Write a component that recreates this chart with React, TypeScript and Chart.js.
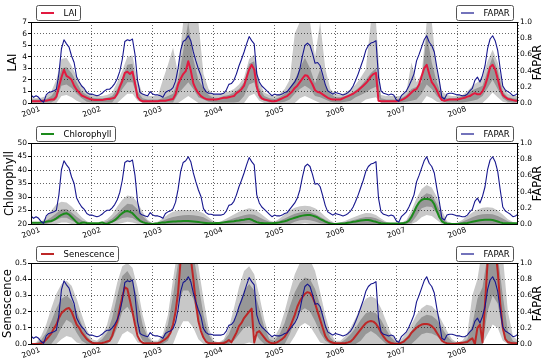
import React, { useEffect, useRef } from 'react';
import { Chart, registerables } from 'chart.js';

Chart.register(...registerables);

// ---------------- time axis ----------------
const START_YEAR = 2001;
const END_YEAR = 2009;
const HALF_MONTHS_PER_YEAR = 24; // sampling of FAPAR and the mean lines
const MONTHS_PER_YEAR = 12; // sampling of the uncertainty bands
const yearLabels = [2001, 2002, 2003, 2004, 2005, 2006, 2007, 2008];

// ---------------- FAPAR (shared by the three panels, right axis) ----------------
const fapar = [
  0.10, 0.07, 0.09, 0.07, 0.03, 0.01, 0.10, 0.13, 0.14, 0.15, 0.17, 0.36,
  0.67, 0.78, 0.73, 0.69, 0.58, 0.50, 0.32, 0.26, 0.21, 0.18, 0.13, 0.11,
  0.11, 0.10, 0.09, 0.10, 0.12, 0.15, 0.17, 0.17, 0.20, 0.24, 0.30, 0.39,
  0.54, 0.76, 0.78, 0.77, 0.79, 0.60, 0.28, 0.13, 0.11, 0.10, 0.09, 0.14,
  0.11, 0.10, 0.10, 0.09, 0.07, 0.13, 0.15, 0.16, 0.19, 0.27, 0.43, 0.65,
  0.76, 0.78, 0.83, 0.77, 0.63, 0.52, 0.42, 0.34, 0.19, 0.14, 0.12, 0.12,
  0.11, 0.11, 0.11, 0.11, 0.12, 0.16, 0.23, 0.24, 0.28, 0.36, 0.46, 0.54,
  0.63, 0.73, 0.82, 0.77, 0.73, 0.36, 0.26, 0.21, 0.18, 0.15, 0.12, 0.09,
  0.11, 0.10, 0.10, 0.11, 0.13, 0.14, 0.18, 0.22, 0.26, 0.32, 0.42, 0.58,
  0.71, 0.74, 0.71, 0.61, 0.49, 0.50, 0.46, 0.35, 0.23, 0.15, 0.13, 0.11,
  0.13, 0.12, 0.11, 0.10, 0.11, 0.13, 0.16, 0.21, 0.28, 0.36, 0.45, 0.54,
  0.65, 0.71, 0.74, 0.75, 0.77, 0.32, 0.15, 0.12, 0.11, 0.10, 0.11, 0.10,
  0.04, 0.02, 0.09, 0.12, 0.15, 0.21, 0.28, 0.36, 0.52, 0.60, 0.69, 0.78,
  0.83, 0.75, 0.71, 0.63, 0.44, 0.27, 0.07, 0.05, 0.11, 0.12, 0.12, 0.11,
  0.10, 0.10, 0.09, 0.09, 0.11, 0.15, 0.18, 0.28, 0.32, 0.26, 0.34, 0.46,
  0.67, 0.79, 0.83, 0.77, 0.65, 0.42, 0.21, 0.16, 0.14, 0.12, 0.09, 0.10, 0.12,
];

// ---------------- LAI ----------------
const laiMean = [
  0.15, 0.15, 0.15, 0.15, 0.15, 0.2, 0.2, 0.25, 0.3, 0.3, 0.55, 1.4,
  2.2, 2.87, 2.35, 2.2, 2.0, 1.5, 1.15, 0.9, 0.65, 0.55, 0.45, 0.35,
  0.3, 0.25, 0.25, 0.25, 0.25, 0.3, 0.35, 0.35, 0.4, 0.45, 0.8, 1.4,
  1.9, 2.6, 2.7, 2.5, 2.7, 1.7, 0.5, 0.25, 0.15, 0.15, 0.15, 0.15,
  0.15, 0.15, 0.15, 0.2, 0.2, 0.2, 0.25, 0.3, 0.35, 0.75, 1.6, 2.1,
  2.5, 2.75, 3.6, 2.8, 1.7, 1.2, 0.85, 0.6, 0.45, 0.35, 0.3, 0.3,
  0.3, 0.3, 0.35, 0.4, 0.45, 0.45, 0.5, 0.55, 0.6, 0.85, 1.0, 1.2,
  1.5, 2.2, 2.9, 3.3, 2.9, 1.4, 0.7, 0.4, 0.3, 0.25, 0.2, 0.15,
  0.15, 0.2, 0.3, 0.4, 0.5, 0.6, 0.8, 1.0, 1.3, 1.5, 1.8, 2.1,
  2.4, 2.35, 2.0, 1.6, 1.1, 0.95, 0.9, 0.75, 0.6, 0.45, 0.35, 0.3,
  0.3, 0.3, 0.3, 0.4, 0.5, 0.6, 0.7, 0.8, 0.95, 1.1, 1.3, 1.5,
  1.7, 1.95, 2.3, 2.5, 2.6, 0.2, 0.15, 0.15, 0.15, 0.15, 0.15, 0.15,
  0.15, 0.2, 0.25, 0.35, 0.5, 0.7, 0.9, 1.1, 1.2, 1.6, 2.3, 3.0,
  3.3, 2.5, 1.8, 1.5, 1.1, 0.6, 0.25, 0.2, 0.25, 0.3, 0.3, 0.3,
  0.3, 0.35, 0.4, 0.45, 0.55, 0.6, 0.75, 0.85, 0.75, 0.75, 1.0, 1.5,
  2.2, 3.1, 3.3, 2.9, 2.1, 1.2, 0.7, 0.5, 0.35, 0.3, 0.25, 0.2, 0.2,
];
const laiOuterHi = [
  0.4, 0.4, 0.45, 0.6, 1.0, 2.0, 3.8, 3.9, 3.2, 2.3, 1.5, 1.0, 0.7,
  0.6, 0.6, 0.7, 0.9, 1.8, 2.8, 4.0, 4.1, 2.0, 0.8, 0.6, 0.6,
  0.6, 2.0, 3.3, 4.8, 2.5, 7, 7, 7, 7, 2.5, 1.2, 0.7,
  0.7, 0.9, 1.0, 1.2, 1.6, 2.2, 3.8, 4.2, 1.8, 0.9, 0.7, 0.6,
  0.8, 1.2, 2.0, 6.0, 7, 7, 7, 4.0, 7, 3.0, 1.2, 0.8,
  0.7, 0.9, 1.2, 1.6, 2.2, 2.9, 7, 7, 0.7, 0.6, 0.6, 0.6,
  0.6, 1.0, 3.5, 1.8, 2.5, 7, 7, 2.8, 1.0, 0.7, 0.6, 0.6,
  0.7, 1.0, 1.5, 1.8, 2.2, 3.6, 4.6, 3.5, 1.5, 0.8, 0.6, 0.6,
];
const laiInnerHi = [
  0.3, 0.3, 0.3, 0.35, 0.6, 1.2, 3.0, 3.1, 2.6, 1.8, 1.0, 0.7, 0.45,
  0.4, 0.4, 0.45, 0.6, 1.2, 2.2, 3.3, 3.4, 1.0, 0.4, 0.3, 0.3,
  0.3, 0.4, 0.6, 0.8, 2.0, 4.5, 7, 3.8, 2.0, 1.3, 0.7, 0.45,
  0.45, 0.6, 0.7, 0.9, 1.2, 1.8, 3.4, 3.6, 1.3, 0.6, 0.4, 0.35,
  0.5, 0.8, 1.3, 2.0, 3.0, 3.9, 3.0, 1.7, 2.9, 1.6, 0.8, 0.5,
  0.5, 0.6, 0.8, 1.1, 1.5, 2.0, 2.6, 3.0, 0.4, 0.3, 0.3, 0.3,
  0.4, 0.7, 1.2, 1.4, 1.8, 6.0, 3.5, 1.8, 0.6, 0.4, 0.4, 0.45,
  0.6, 0.8, 1.1, 1.3, 1.5, 2.8, 4.0, 2.8, 1.0, 0.5, 0.4, 0.35,
];
const laiInnerLo = [
  0.05, 0.05, 0.05, 0.05, 0.05, 0.3, 1.5, 1.6, 1.3, 0.8, 0.4, 0.1, 0.05,
  0.05, 0.05, 0.05, 0.05, 0.6, 1.2, 1.8, 1.8, 0.5, 0.05, 0.05, 0.05,
  0.05, 0.05, 0.05, 0.05, 0.8, 1.3, 1.8, 1.2, 0.5, 0.3, 0.1, 0.05,
  0.05, 0.05, 0.05, 0.05, 0.1, 0.6, 1.6, 1.8, 0.4, 0.2, 0.05, 0.05,
  0.05, 0.1, 0.3, 0.8, 1.2, 1.5, 1.2, 0.6, 0.5, 0.3, 0.1, 0.05,
  0.05, 0.1, 0.2, 0.5, 0.7, 0.9, 1.2, 1.4, 0.05, 0.05, 0.05, 0.05,
  0.05, 0.1, 0.2, 0.3, 0.8, 1.6, 1.2, 0.6, 0.2, 0.05, 0.05, 0.05,
  0.05, 0.1, 0.2, 0.3, 0.6, 1.3, 2.0, 1.2, 0.4, 0.1, 0.05, 0.05,
];
const laiOuterLo = [
  0, 0, 0, 0, 0, 0, 0.6, 0.7, 0.5, 0.2, 0, 0, 0,
  0, 0, 0, 0, 0, 0.4, 0.8, 0.8, 0.2, 0, 0, 0,
  0, 0, 0, 0, 0, 0.3, 0.6, 0.3, 0, 0, 0, 0,
  0, 0, 0, 0, 0, 0, 0.6, 0.8, 0.2, 0, 0, 0,
  0, 0, 0, 0, 0.4, 0.6, 0.4, 0.2, 0, 0, 0, 0,
  0, 0, 0, 0, 0, 0.3, 0.4, 0.5, 0, 0, 0, 0,
  0, 0, 0, 0, 0, 0.6, 0.4, 0.1, 0, 0, 0, 0,
  0, 0, 0, 0, 0, 0.4, 0.9, 0.5, 0.1, 0, 0, 0,
];

// ---------------- Chlorophyll ----------------
const chlMean = [
  20.5, 20.5, 20.5, 20.5, 20.6, 20.6, 20.8, 21.0, 21.1, 21.5, 22.1, 22.8,
  23.4, 23.8, 24.0, 23.5, 22.6, 21.6, 20.6, 20.0, 20.5, 20.6, 20.4, 20.3,
  20.3, 20.3, 20.3, 20.4, 20.6, 20.2, 20.0, 20.5, 20.9, 21.4, 22.2, 23.2,
  24.0, 24.6, 24.8, 24.5, 24.0, 23.0, 22.0, 21.2, 20.7, 20.4, 20.2, 20.1,
  20.0, 20.2, 20.3, 20.5, 20.6, 20.6, 20.7, 20.8, 20.9, 20.9, 21.0, 21.0,
  21.1, 21.1, 21.1, 21.0, 20.9, 20.8, 20.7, 20.6, 20.5, 20.4, 20.3, 20.3,
  20.3, 20.4, 20.4, 20.5, 20.6, 20.7, 20.8, 20.9, 21.0, 21.2, 21.3, 21.5,
  21.6, 21.8, 21.9, 21.6, 21.1, 20.7, 20.5, 20.4, 20.3, 20.3, 20.3, 20.3,
  20.4, 20.5, 20.6, 20.8, 21.0, 21.3, 21.7, 22.0, 22.3, 22.6, 22.9, 23.1,
  23.2, 23.3, 23.3, 23.1, 22.8, 22.4, 21.8, 21.4, 20.9, 20.5, 20.2, 20.0,
  20.0, 20.1, 20.2, 20.2, 20.3, 20.5, 20.6, 20.8, 20.9, 21.1, 21.3, 21.4,
  21.5, 21.5, 21.3, 21.0, 20.8, 20.5, 20.3, 20.2, 20.2, 20.2, 20.2, 20.2,
  20.2, 20.2, 20.3, 20.4, 20.6, 21.2, 22.6, 24.5, 26.5, 28.0, 28.9, 29.3,
  29.3, 29.2, 28.7, 27.3, 24.8, 22.5, 21.0, 20.4, 20.2, 20.1, 20.0, 20.0,
  20.0, 20.1, 20.2, 20.3, 20.4, 20.6, 20.8, 21.0, 21.2, 21.4, 21.5, 21.6,
  21.6, 21.6, 21.5, 21.2, 20.9, 20.6, 20.4, 20.3, 20.3, 20.3, 20.3, 20.3, 20.3,
];
const chlOuterHi = [
  20.3, 20.3, 20.8, 22.5, 25.0, 27.3, 28.2, 28.0, 26.5, 24.5, 22.5, 21.0, 20.3,
  20.3, 20.8, 21.8, 23.5, 26.5, 29.0, 30.6, 30.2, 28.0, 24.5, 21.5, 20.3,
  20.8, 22.0, 23.5, 24.5, 25.0, 25.2, 25.2, 25.1, 24.8, 24.0, 22.5, 21.0,
  20.6, 21.5, 22.5, 23.5, 24.5, 25.3, 25.8, 25.5, 24.3, 22.8, 21.3, 20.7,
  22.0, 23.5, 25.0, 26.0, 26.6, 26.8, 26.6, 25.8, 24.5, 22.8, 21.3, 20.3,
  20.6, 21.2, 22.0, 22.8, 23.5, 24.1, 24.0, 23.3, 22.0, 20.8, 20.3, 20.3,
  20.5, 21.5, 25.0, 29.5, 33.0, 34.4, 33.5, 30.0, 25.0, 21.0, 20.3, 20.5,
  21.5, 23.0, 24.3, 25.3, 26.0, 26.2, 26.0, 25.0, 23.5, 21.8, 20.7, 20.3,
];
const chlInnerHi = [
  20.2, 20.2, 20.5, 21.3, 22.5, 24.0, 25.5, 25.6, 24.3, 22.7, 21.3, 20.5, 20.2,
  20.2, 20.5, 21.0, 22.0, 23.8, 25.8, 27.5, 27.2, 25.5, 23.0, 21.0, 20.2,
  20.4, 21.2, 22.0, 22.6, 23.0, 23.2, 23.3, 23.2, 23.0, 22.5, 21.5, 20.6,
  20.4, 20.9, 21.5, 22.1, 22.7, 23.2, 23.6, 23.4, 22.5, 21.6, 20.8, 20.5,
  21.2, 22.0, 23.0, 23.8, 24.3, 24.6, 24.4, 23.7, 22.7, 21.6, 20.7, 20.2,
  20.4, 20.7, 21.2, 21.7, 22.2, 22.6, 22.6, 22.1, 21.3, 20.5, 20.2, 20.2,
  20.3, 21.0, 23.5, 27.0, 30.0, 31.4, 30.8, 27.5, 23.0, 20.5, 20.2, 20.3,
  20.8, 21.7, 22.5, 23.2, 23.6, 23.7, 23.6, 23.0, 22.0, 21.0, 20.4, 20.2,
];
const chlInnerLo = [
  20, 20, 20, 20, 20.6, 21.5, 22.3, 22.3, 21.3, 20.3, 20, 20, 20,
  20, 20, 20, 20.5, 21.3, 22.2, 22.5, 22.2, 21.0, 20.2, 20, 20,
  20, 20, 20, 20, 20, 20, 20, 20, 20, 20, 20, 20,
  20, 20, 20, 20, 20, 20.2, 20.3, 20, 20, 20, 20, 20,
  20, 20, 20, 20.8, 21.4, 21.6, 21.4, 20.9, 20.3, 20, 20, 20,
  20, 20, 20, 20, 20, 20, 20, 20, 20, 20, 20, 20,
  20, 20, 20.5, 23.0, 25.8, 26.5, 26.3, 24.0, 21.0, 20, 20, 20,
  20, 20, 20, 20, 20, 20, 20, 20, 20, 20, 20, 20,
];
const chlOuterLo = [
  20, 20, 20, 20, 20, 20, 20.6, 20.6, 20, 20, 20, 20, 20,
  20, 20, 20, 20, 20, 20.4, 20.8, 20.6, 20, 20, 20, 20,
  20, 20, 20, 20, 20, 20, 20, 20, 20, 20, 20, 20,
  20, 20, 20, 20, 20, 20, 20, 20, 20, 20, 20, 20,
  20, 20, 20, 20, 20, 20.3, 20, 20, 20, 20, 20, 20,
  20, 20, 20, 20, 20, 20, 20, 20, 20, 20, 20, 20,
  20, 20, 20, 20.8, 22.5, 23.3, 23.0, 21.5, 20, 20, 20, 20,
  20, 20, 20, 20, 20, 20, 20, 20, 20, 20, 20, 20,
];

// ---------------- Senescence ----------------
const senMean = [
  0, 0, 0, 0, 0.005, 0.012, 0.027, 0.045, 0.065, 0.095, 0.12, 0.16,
  0.19, 0.205, 0.218, 0.222, 0.2, 0.16, 0.12, 0.10, 0.07, 0.05, 0.03, 0.018,
  0.008, 0.005, 0.004, 0.004, 0.006, 0.01, 0.015, 0.02, 0.05, 0.1, 0.14, 0.22,
  0.29, 0.35, 0.34, 0.27, 0.2, 0.12, 0.05, 0.02, 0.008, 0.004, 0.004, 0.004,
  0.004, 0.004, 0.006, 0.01, 0.02, 0.03, 0.045, 0.07, 0.12, 0.2, 0.32, 0.52,
  0.56, 0.57, 0.57, 0.53, 0.4, 0.25, 0.14, 0.08, 0.04, 0.015, 0.006, 0.004,
  0.004, 0.004, 0.004, 0.004, 0.006, 0.012, 0.025, 0.01, 0.04, 0.07, 0.11, 0.13,
  0.16, 0.18, 0.2, 0.218, 0.01, 0.07, 0.08, 0.06, 0.04, 0.02, 0.01, 0.005,
  0.006, 0.01, 0.02, 0.03, 0.045, 0.07, 0.1, 0.14, 0.18, 0.23, 0.265, 0.29,
  0.31, 0.32, 0.315, 0.29, 0.25, 0.2, 0.15, 0.1, 0.05, 0.025, 0.014, 0.008,
  0.005, 0.004, 0.004, 0.004, 0.006, 0.01, 0.015, 0.03, 0.05, 0.07, 0.09, 0.11,
  0.128, 0.138, 0.142, 0.138, 0.125, 0.1, 0.07, 0.045, 0.025, 0.012, 0.006, 0.003,
  0.002, 0.003, 0.008, 0.015, 0.03, 0.045, 0.07, 0.085, 0.1, 0.112, 0.12, 0.124,
  0.124, 0.12, 0.11, 0.095, 0.07, 0.045, 0.02, 0.01, 0.005, 0.003, 0.002, 0.002,
  0.004, 0.006, 0.008, 0.01, 0.012, 0.025, 0.035, 0.0, 0.1, 0.12, 0.01, 0.25,
  0.5, 0.62, 0.65, 0.6, 0.45, 0.25, 0.1, 0.03, 0.012, 0.008, 0.005, 0.004, 0.004,
];
const senOuterHi = [
  0.0, 0.01, 0.05, 0.12, 0.22, 0.31, 0.37, 0.39, 0.36, 0.28, 0.18, 0.09, 0.03,
  0.02, 0.05, 0.12, 0.24, 0.38, 0.48, 0.5, 0.47, 0.35, 0.18, 0.06, 0.02,
  0.02, 0.06, 0.18, 0.4, 0.6, 0.7, 0.7, 0.65, 0.48, 0.28, 0.1, 0.02,
  0.01, 0.03, 0.1, 0.22, 0.35, 0.45, 0.48, 0.43, 0.3, 0.15, 0.05, 0.04,
  0.1, 0.2, 0.32, 0.43, 0.5, 0.54, 0.52, 0.45, 0.32, 0.18, 0.07, 0.02,
  0.02, 0.05, 0.1, 0.16, 0.23, 0.28, 0.295, 0.28, 0.22, 0.14, 0.06, 0.02,
  0.03, 0.07, 0.12, 0.18, 0.22, 0.243, 0.235, 0.2, 0.14, 0.08, 0.03, 0.01,
  0.02, 0.06, 0.3, 0.4, 0.6, 0.7, 0.7, 0.7, 0.55, 0.2, 0.05, 0.02,
];
const senInnerHi = [
  0.0, 0.005, 0.025, 0.07, 0.14, 0.22, 0.28, 0.3, 0.27, 0.2, 0.12, 0.05, 0.015,
  0.01, 0.03, 0.07, 0.16, 0.3, 0.42, 0.45, 0.4, 0.27, 0.12, 0.04, 0.01,
  0.01, 0.04, 0.12, 0.3, 0.5, 0.62, 0.62, 0.55, 0.37, 0.18, 0.06, 0.01,
  0.005, 0.02, 0.06, 0.14, 0.24, 0.33, 0.37, 0.33, 0.22, 0.1, 0.03, 0.02,
  0.06, 0.13, 0.23, 0.32, 0.38, 0.41, 0.4, 0.34, 0.24, 0.12, 0.04, 0.01,
  0.01, 0.03, 0.06, 0.1, 0.15, 0.19, 0.2, 0.19, 0.15, 0.09, 0.04, 0.01,
  0.015, 0.04, 0.08, 0.13, 0.165, 0.18, 0.175, 0.15, 0.1, 0.05, 0.015, 0.005,
  0.01, 0.03, 0.12, 0.28, 0.35, 0.55, 0.65, 0.55, 0.3, 0.08, 0.02, 0.01,
];
const senInnerLo = [
  0, 0, 0, 0, 0, 0.04, 0.1, 0.15, 0.13, 0.07, 0.02, 0, 0,
  0, 0, 0, 0.03, 0.1, 0.2, 0.23, 0.18, 0.08, 0.02, 0, 0,
  0, 0, 0.02, 0.1, 0.25, 0.33, 0.33, 0.28, 0.15, 0.05, 0, 0,
  0, 0, 0, 0.02, 0.06, 0.1, 0.11, 0.08, 0.03, 0, 0, 0,
  0, 0, 0.06, 0.14, 0.2, 0.22, 0.2, 0.14, 0.07, 0.02, 0, 0,
  0, 0, 0, 0, 0.02, 0.06, 0.08, 0.06, 0.03, 0, 0, 0,
  0, 0, 0, 0.03, 0.06, 0.07, 0.065, 0.05, 0.02, 0, 0, 0,
  0, 0, 0, 0, 0, 0.2, 0.3, 0.25, 0.08, 0, 0, 0,
];
const senOuterLo = [
  0, 0, 0, 0, 0, 0, 0.03, 0.05, 0.04, 0.01, 0, 0, 0,
  0, 0, 0, 0, 0, 0.06, 0.08, 0.06, 0.01, 0, 0, 0,
  0, 0, 0, 0, 0.08, 0.14, 0.14, 0.1, 0.03, 0, 0, 0,
  0, 0, 0, 0, 0, 0, 0.01, 0, 0, 0, 0, 0,
  0, 0, 0, 0.05, 0.11, 0.13, 0.11, 0.06, 0.01, 0, 0, 0,
  0, 0, 0, 0, 0, 0, 0, 0, 0, 0, 0, 0,
  0, 0, 0, 0, 0, 0, 0, 0, 0, 0, 0, 0,
  0, 0, 0, 0, 0, 0.06, 0.12, 0.1, 0.02, 0, 0, 0,
];

// ---------------- styling ----------------
const FAPAR_COLOR = '#16168e';
const LIGHT_BAND = '#c8c8c8';
const DARK_BAND = '#979797';
const GRID_COLOR = 'rgba(0,0,0,0.6)';
const FONT = '"DejaVu Sans", "Liberation Sans", sans-serif';

type PanelDef = {
  key: string;
  title: string;
  color: string;
  min: number;
  max: number;
  step: number;
  decimals: number;
  titleX: number;
  mean: number[];
  innerHi: number[];
  innerLo: number[];
  outerHi: number[];
  outerLo: number[];
  top: number;
  height: number;
};

const panels: PanelDef[] = [
  { key: 'lai', title: 'LAI', color: '#e2193f', min: 0, max: 7, step: 1, decimals: 0, titleX: 13,
    mean: laiMean, innerHi: laiInnerHi, innerLo: laiInnerLo, outerHi: laiOuterHi, outerLo: laiOuterLo,
    top: 0, height: 121 },
  { key: 'chl', title: 'Chlorophyll', color: '#1c8a1c', min: 20, max: 50, step: 5, decimals: 0, titleX: 10.5,
    mean: chlMean, innerHi: chlInnerHi, innerLo: chlInnerLo, outerHi: chlOuterHi, outerLo: chlOuterLo,
    top: 121, height: 121 },
  { key: 'sen', title: 'Senescence', color: '#bd2727', min: 0, max: 0.5, step: 0.1, decimals: 1, titleX: 8.5,
    mean: senMean, innerHi: senInnerHi, innerLo: senInnerLo, outerHi: senOuterHi, outerLo: senOuterLo,
    top: 241, height: 123 },
];

const PLOT_TOP = 22;
const PLOT_BOTTOM = 103;
const LEFT_AXIS_W = 31;
const RIGHT_AXIS_W = 32;

function toPoints(values: number[], perYear: number) {
  return values.map((v, i) => ({ x: START_YEAR + i / perYear, y: v }));
}

function drawLegend(ctx: CanvasRenderingContext2D, x: number, y: number, label: string, color: string, lw: number, alignRight: boolean) {
  ctx.font = `8.5px ${FONT}`;
  const tw = ctx.measureText(label).width;
  const w = Math.round(27 + tw + 4);
  const h = 15;
  const bx = Math.round(alignRight ? x - w : x) + 0.5;
  const by = Math.round(y) + 0.5;
  ctx.beginPath();
  const r = 2;
  ctx.moveTo(bx + r, by);
  ctx.lineTo(bx + w - r, by);
  ctx.arcTo(bx + w, by, bx + w, by + r, r);
  ctx.lineTo(bx + w, by + h - r);
  ctx.arcTo(bx + w, by + h, bx + w - r, by + h, r);
  ctx.lineTo(bx + r, by + h);
  ctx.arcTo(bx, by + h, bx, by + h - r, r);
  ctx.lineTo(bx, by + r);
  ctx.arcTo(bx, by, bx + r, by, r);
  ctx.closePath();
  ctx.fillStyle = '#ffffff';
  ctx.fill();
  ctx.strokeStyle = '#555555';
  ctx.lineWidth = 1;
  ctx.stroke();
  ctx.beginPath();
  ctx.strokeStyle = color;
  ctx.lineWidth = lw;
  ctx.moveTo(bx + 4.5, by + h / 2);
  ctx.lineTo(bx + 17.5, by + h / 2);
  ctx.stroke();
  ctx.fillStyle = '#000';
  ctx.textAlign = 'left';
  ctx.textBaseline = 'middle';
  ctx.fillText(label, bx + 27, by + h / 2 + 0.5);
}

function makeOverlay(p: PanelDef) {
  return {
    id: 'overlay_' + p.key,
    afterDraw(chart: any) {
      const { ctx, chartArea: a, scales } = chart;
      ctx.save();
      // frame
      ctx.strokeStyle = '#000';
      ctx.lineWidth = 1;
      ctx.strokeRect(a.left + 0.5, a.top + 0.5, a.right - a.left - 1, a.bottom - a.top);
      // rotated year labels
      ctx.fillStyle = '#000';
      ctx.font = `7.5px ${FONT}`;
      ctx.textAlign = 'center';
      ctx.textBaseline = 'middle';
      for (const yr of yearLabels) {
        const x = scales.x.getPixelForValue(yr);
        ctx.save();
        ctx.translate(x, a.bottom + 9);
        ctx.rotate((-20 * Math.PI) / 180);
        ctx.fillText(String(yr), 0, 0);
        ctx.restore();
      }
      // axis titles
      const mid = (a.top + a.bottom) / 2;
      ctx.font = `11.5px ${FONT}`;
      ctx.save();
      ctx.translate(p.titleX, mid);
      ctx.rotate(-Math.PI / 2);
      ctx.fillText(p.title, 0, 0);
      ctx.restore();
      ctx.save();
      ctx.translate(538, mid);
      ctx.rotate(-Math.PI / 2);
      ctx.fillText('FAPAR', 0, 0);
      ctx.restore();
      // legends
      drawLegend(ctx, a.left + 4.5, a.top - 17, p.title, p.color, 2, false);
      drawLegend(ctx, a.right - 5.5, a.top - 17, 'FAPAR', FAPAR_COLOR, 1.2, true);
      ctx.restore();
    },
  };
}

function PanelChart({ p }: { p: PanelDef }) {
  const ref = useRef<HTMLCanvasElement>(null);
  useEffect(() => {
    const canvas = ref.current;
    if (!canvas) return;
    const band = (values: number[]) => toPoints(values, MONTHS_PER_YEAR);
    const invisible = { borderColor: 'rgba(0,0,0,0)', borderWidth: 0, pointRadius: 0, yAxisID: 'y' };
    const chart = new Chart(canvas, {
      type: 'line',
      data: {
        datasets: [
          { label: 'FAPAR', data: toPoints(fapar, HALF_MONTHS_PER_YEAR), borderColor: FAPAR_COLOR, borderWidth: 1.1,
            pointRadius: 0, fill: false, yAxisID: 'y2', borderJoinStyle: 'round' },
          { label: p.title, data: toPoints(p.mean, HALF_MONTHS_PER_YEAR), borderColor: p.color, borderWidth: 2,
            pointRadius: 0, fill: false, yAxisID: 'y', borderJoinStyle: 'round' },
          { label: 'innerHi', data: band(p.innerHi), ...invisible, fill: '+1', backgroundColor: DARK_BAND },
          { label: 'innerLo', data: band(p.innerLo), ...invisible, fill: false },
          { label: 'outerHi', data: band(p.outerHi), ...invisible, fill: '+1', backgroundColor: LIGHT_BAND },
          { label: 'outerLo', data: band(p.outerLo), ...invisible, fill: false },
        ] as any,
      },
      options: {
        animation: false,
        responsive: false,
        devicePixelRatio: 1,
        events: [],
        layout: { padding: { top: PLOT_TOP, bottom: p.height - PLOT_BOTTOM, left: 0, right: 0 } },
        elements: { line: { tension: 0 } },
        plugins: {
          legend: { display: false },
          tooltip: { enabled: false },
          filler: { drawTime: 'beforeDraw', propagate: false },
        },
        scales: {
          x: {
            type: 'linear',
            min: START_YEAR,
            max: END_YEAR,
            ticks: { stepSize: 1, display: false, autoSkip: false },
            grid: { color: GRID_COLOR, lineWidth: 1, drawTicks: false },
            border: { display: false, dash: [1, 2] },
            afterFit: (s: any) => { s.height = 0; },
          },
          y: {
            position: 'left',
            min: p.min,
            max: p.max,
            ticks: {
              stepSize: p.step,
              autoSkip: false,
              color: '#000',
              padding: 1,
              font: { family: FONT, size: 7.5, lineHeight: 1 },
              callback: (v: any) => Number(v).toFixed(p.decimals),
            },
            grid: { color: GRID_COLOR, lineWidth: 1, drawTicks: true, tickLength: 3, tickColor: '#000', tickWidth: 1 },
            border: { display: false, dash: [1, 2] },
            afterFit: (s: any) => { s.width = LEFT_AXIS_W; },
          },
          y2: {
            position: 'right',
            min: 0,
            max: 1,
            ticks: {
              stepSize: 0.2,
              autoSkip: false,
              color: '#000',
              padding: 2,
              font: { family: FONT, size: 7.5, lineHeight: 1 },
              callback: (v: any) => Number(v).toFixed(1),
            },
            grid: { drawOnChartArea: false, drawTicks: false },
            border: { display: false },
            afterFit: (s: any) => { s.width = RIGHT_AXIS_W; },
          },
        },
      } as any,
      plugins: [makeOverlay(p)],
    });
    return () => chart.destroy();
  }, [p]);
  return (
    <canvas
      ref={ref}
      width={550}
      height={p.height}
      style={{ position: 'absolute', left: 0, top: p.top, width: 550, height: p.height, display: 'block' }}
    />
  );
}

export default function App() {
  return (
    <div style={{ position: 'fixed', left: 0, top: 0, width: 550, height: 364, background: '#fff', overflow: 'hidden' }}>
      {panels.map((p) => (
        <PanelChart key={p.key} p={p} />
      ))}
    </div>
  );
}
